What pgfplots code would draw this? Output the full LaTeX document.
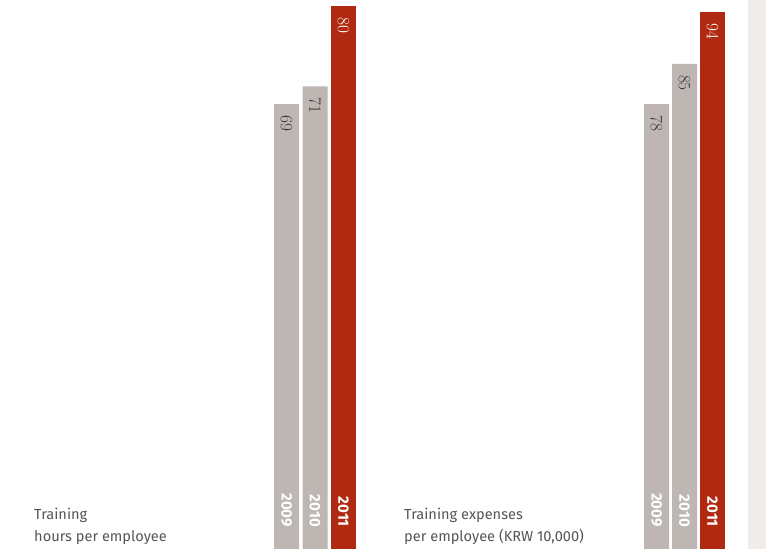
\documentclass[border=0pt]{standalone}
\usepackage{pgfplots}
\pgfplotsset{compat=1.18}
\usepackage{fontspec}
\newfontfamily\din{Fira Sans}
\definecolor{bargray}{RGB}{189,182,179}
\definecolor{barred}{RGB}{176,42,18}
\definecolor{strip}{RGB}{240,236,234}
\definecolor{txt}{RGB}{85,85,85}
\definecolor{valtxt}{RGB}{60,55,52}
\pgfplotsset{
  panel/.style={
    scale only axis, anchor=south west,
    height=549pt,
    xmin=-0.5, xmax=2.5,
    hide axis,
    clip=false,
  },
  valbar/.style={ybar, bar shift=0pt, bar width=25pt, draw=none,
    nodes near coords,
    every node near coord/.append style={rotate=-90, anchor=west, inner xsep=11pt, inner ysep=0pt, font=\fontsize{19}{19}\selectfont},
  },
  yearlab/.style={draw=none, mark=none, nodes near coords, point meta=explicit symbolic,
    every node near coord/.style={rotate=-90, anchor=east, inner sep=0pt, text=white, font=\din\bfseries\fontsize{15}{15}\selectfont},
  },
}
\begin{document}
\begin{tikzpicture}[x=1pt,y=1pt]
\path[use as bounding box] (0,0) rectangle (766,549);
\fill[strip] (748,0) rectangle (766,549);

\begin{axis}[panel, at={(272.25pt,0pt)}, width=85.5pt, ymin=19, ymax=80.7]
\addplot[valbar, fill=bargray, every node near coord/.append style={text=valtxt}] coordinates {(0,69) (1,71)};
\addplot[valbar, fill=barred, every node near coord/.append style={text=white}] coordinates {(2,80)};
\addplot[yearlab] coordinates {(0,21.47)[2009] (1,21.47)[2010] (2,21.47)[2011]};
\end{axis}

\begin{axis}[panel, at={(642.5pt,0pt)}, width=84pt, ymin=0.6, ymax=96.1]
\addplot[valbar, fill=bargray, every node near coord/.append style={text=valtxt}] coordinates {(0,78) (1,85)};
\addplot[valbar, fill=barred, every node near coord/.append style={text=white}] coordinates {(2,94)};
\addplot[yearlab] coordinates {(0,4.43)[2009] (1,4.43)[2010] (2,4.43)[2011]};
\end{axis}

\node[anchor=base west, inner sep=0pt, text=txt, font=\din\fontsize{14.6}{16}\selectfont] at (34,29) {Training};
\node[anchor=base west, inner sep=0pt, text=txt, font=\din\fontsize{14.6}{16}\selectfont] at (34,7.5) {hours per employee};
\node[anchor=base west, inner sep=0pt, text=txt, font=\din\fontsize{14.6}{16}\selectfont] at (404,29) {Training expenses};
\node[anchor=base west, inner sep=0pt, text=txt, font=\din\fontsize{14.6}{16}\selectfont] at (404,7.5) {per employee (KRW 10,000)};
\end{tikzpicture}
\end{document}
